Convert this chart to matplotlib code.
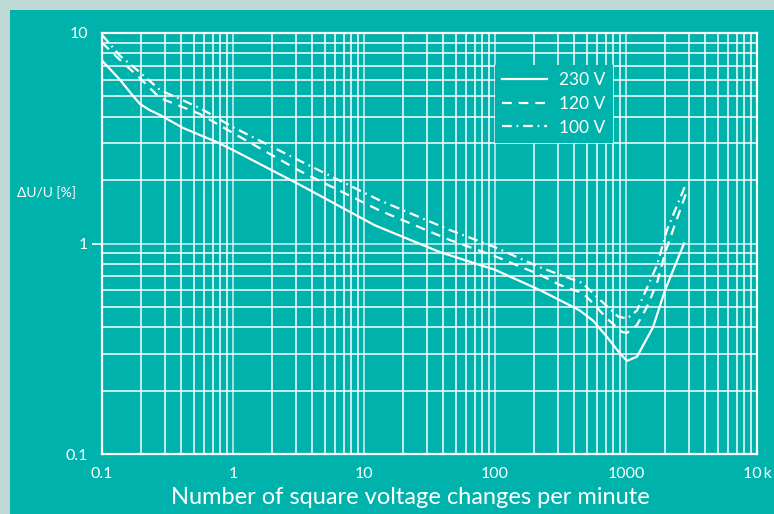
import numpy as np
import matplotlib.pyplot as plt
from matplotlib.patches import Rectangle

plt.rcParams['font.family'] = ['Lato', 'DejaVu Sans']
plt.rcParams['lines.scale_dashes'] = False

TEAL = '#00b2ac'
OUTER = '#bfdad6'

# 230 V curve
x_230 = [0.1, 0.137, 0.175, 0.195, 0.23, 0.277, 0.415, 0.755, 1.0, 3.24, 12.1, 38, 100,
         221, 394, 445, 560, 716, 900, 1018, 1213, 1607, 1985, 2773]
y_230 = [7.4, 6.0, 4.97, 4.6, 4.31, 4.08, 3.54, 3.03, 2.78, 1.9, 1.22, 0.91, 0.75,
         0.60, 0.50, 0.48, 0.43, 0.36, 0.30, 0.277, 0.29, 0.40, 0.60, 1.0]

# 120 V curve
x_120 = [0.1, 0.137, 0.195, 0.277, 0.56, 1.0, 3.24, 13, 45, 100, 221, 313,
         470, 560, 716, 932, 1018, 1213, 1446, 1725, 1985, 2285, 2900]
y_120 = [9.0, 7.45, 6.1, 4.91, 4.12, 3.35, 2.21, 1.44, 1.04, 0.87, 0.71, 0.635,
         0.58, 0.52, 0.44, 0.38, 0.376, 0.41, 0.50, 0.65, 0.90, 1.16, 1.76]

# 100 V curve
x_100 = [0.1, 0.137, 0.195, 0.277, 0.56, 1.0, 3.24, 13, 45, 100, 221, 462,
         634, 869, 1018, 1213, 1446, 1725, 2056, 2870]
y_100 = [9.8, 7.8, 6.5, 5.36, 4.40, 3.57, 2.47, 1.61, 1.16, 0.96, 0.77, 0.65,
         0.54, 0.45, 0.44, 0.48, 0.615, 0.79, 1.16, 1.92]

xticks = [0.1, 1, 10, 100, 1000, 10000]
xtick_labels = ['0.1', '1', '10', '100', '1000', '10\u2009k']
yticks = [0.1, 1, 10]
ytick_labels = ['0.1', '1', '10']

fig = plt.figure(figsize=(7.74, 5.14), dpi=100, facecolor=OUTER)
panel = Rectangle((10 / 774, 0), 1, 1 - 10 / 514, transform=fig.transFigure,
                  facecolor=TEAL, edgecolor='none', zorder=-10)
fig.add_artist(panel)

ax = fig.add_axes([102 / 774, 1 - 454 / 514, 655 / 774, 421 / 514])
ax.set_zorder(1)
ax.set_facecolor(TEAL)
ax.set_xscale('log')
ax.set_yscale('log')
ax.set_xlim(0.1, 10000)
ax.set_ylim(0.1, 10)

ax.grid(True, which='major', color='white', lw=1.3, alpha=0.7)
ax.grid(True, which='minor', color='white', lw=1.2, alpha=0.9)
for s in ax.spines.values():
    s.set_color('white')
    s.set_linewidth(1.6)

ax.plot(x_230, y_230, color='white', lw=1.6, ls='-', label='230 V')
ax.plot(x_120, y_120, color='white', lw=1.6, ls=(0, (7, 5)), label='120 V')
ax.plot(x_100, y_100, color='white', lw=1.6, ls=(0, (7, 3.5, 1.2, 3.5)), label='100 V')

ax.set_xticks(xticks)
ax.set_xticklabels(xtick_labels)
ax.set_yticks(yticks)
ax.set_yticklabels(ytick_labels)
ax.tick_params(which='minor', length=0)
ax.tick_params(axis='x', which='major', length=0, pad=9, labelsize=11.5, labelcolor='white')
ax.tick_params(axis='y', which='major', length=7, width=1.2, color='white', pad=3,
               labelsize=11.5, labelcolor='white')
yt = ax.yaxis.get_major_ticks()
yt[0].tick1line.set_visible(False)
yt[-1].tick1line.set_visible(False)
# keep the last x label inside the frame
ax.get_xticklabels()[-1].set_horizontalalignment('center')
ax.xaxis.get_major_ticks()[-1].label1.set_x(0.998)

leg = ax.legend(loc='upper left', bbox_to_anchor=(0.600, 0.924), frameon=True,
                fancybox=False, facecolor=TEAL, edgecolor='none', framealpha=1,
                handlelength=2.6, handletextpad=0.7, labelspacing=0.45,
                borderpad=0.4, borderaxespad=0, fontsize=12.5)
for t in leg.get_texts():
    t.set_color('white')

fig.text(17 / 774, 1 - 193 / 514, 'ΔU/U [%]', color='white', fontsize=10,
         ha='left', va='center')
fig.text(410 / 774, 1 - 497 / 514, 'Number of square voltage changes per minute',
         color='white', fontsize=17, ha='center', va='center')

fig.savefig('out.png', dpi=100, facecolor=OUTER)
